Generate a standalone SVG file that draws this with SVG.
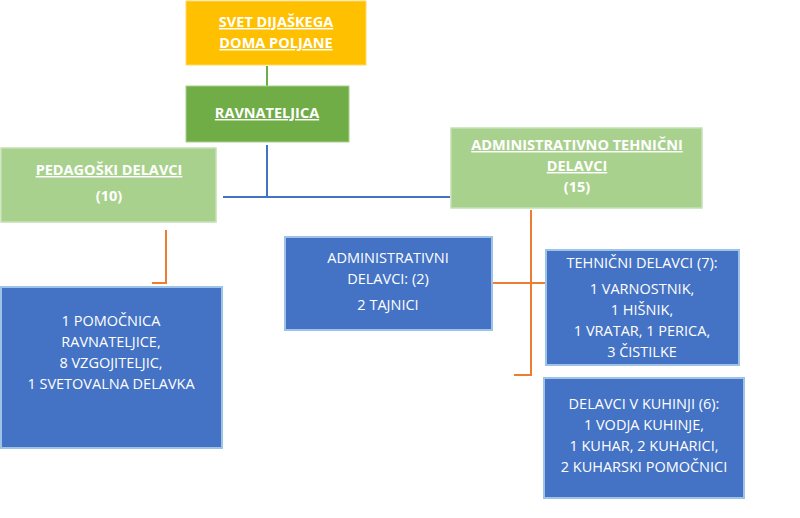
<svg xmlns="http://www.w3.org/2000/svg" width="800" height="518" viewBox="0 0 800 518">
<style>
text{font-family:"Open Sans","Liberation Sans",sans-serif;fill:#fff;text-anchor:middle}
.h{font-weight:bold;font-size:14.5px;text-decoration:underline}
.b{font-size:14.5px}
.blue{fill:#4472c4;stroke:#9dc3e6;stroke-width:2}
.lg{fill:#a9d18e;stroke:#c5e0b4;stroke-width:1.5}
.or{stroke:#ed7d31;stroke-width:2;fill:none}
</style>
<rect width="800" height="518" fill="#fff"/>
<g id="connectors">
<line x1="267" y1="66" x2="267" y2="86" stroke="#70ad47" stroke-width="2"/>
<polyline points="267,145 267,197" stroke="#4472c4" stroke-width="2" fill="none"/>
<line x1="223" y1="197" x2="450" y2="197" stroke="#4472c4" stroke-width="2"/>
<polyline class="or" points="166,230 166,283 152,283"/>
<polyline class="or" points="531,210 531,375 514,375"/>
<line class="or" x1="492" y1="283" x2="545" y2="283"/>
</g>
<g id="svet"><rect x="186" y="1" width="180" height="64" fill="#ffc000" stroke="#ffd966" stroke-width="1"/>
<text class="h" x="276" y="27">SVET DIJAŠKEGA</text><text class="h" x="276" y="48">DOMA POLJANE</text></g>
<g id="ravnateljica"><rect x="186" y="86" width="163" height="56" fill="#70ad47" stroke="#a9d18e" stroke-width="1"/>
<text class="h" x="267" y="118">RAVNATELJICA</text></g>
<g id="pedagoski"><rect class="lg" x="1" y="148" width="215" height="74"/>
<text class="h" x="109" y="175">PEDAGOŠKI DELAVCI</text><text class="h" x="109" y="201" style="text-decoration:none">(10)</text></g>
<g id="admteh"><rect class="lg" x="451" y="128" width="251" height="80"/>
<text class="h" x="577" y="150">ADMINISTRATIVNO TEHNIČNI</text><text class="h" x="577" y="171">DELAVCI</text><text class="h" x="577" y="192" style="text-decoration:none">(15)</text></g>
<g id="pomocnica"><rect class="blue" x="1" y="287" width="221" height="161"/>
<text class="b" x="111" y="326">1 POMOČNICA</text><text class="b" x="111" y="347">RAVNATELJICE,</text><text class="b" x="111" y="368">8 VZGOJITELJIC,</text><text class="b" x="111" y="389">1 SVETOVALNA DELAVKA</text></g>
<g id="admin"><rect class="blue" x="285" y="237" width="207" height="93"/>
<text class="b" x="388" y="263">ADMINISTRATIVNI</text><text class="b" x="388" y="284">DELAVCI: (2)</text><text class="b" x="388" y="310">2 TAJNICI</text></g>
<g id="tehnicni"><rect class="blue" x="546" y="250" width="193" height="115"/>
<text class="b" x="642" y="268">TEHNIČNI DELAVCI (7):</text><text class="b" x="642" y="294">1 VARNOSTNIK,</text><text class="b" x="642" y="315">1 HIŠNIK,</text><text class="b" x="642" y="336">1 VRATAR, 1 PERICA,</text><text class="b" x="642" y="357">3 ČISTILKE</text></g>
<g id="kuhinja"><rect class="blue" x="544" y="378" width="200" height="120"/>
<text class="b" x="644" y="409">DELAVCI V KUHINJI (6):</text><text class="b" x="644" y="430">1 VODJA KUHINJE,</text><text class="b" x="644" y="451">1 KUHAR, 2 KUHARICI,</text><text class="b" x="644" y="472">2 KUHARSKI POMOČNICI</text></g>
</svg>
